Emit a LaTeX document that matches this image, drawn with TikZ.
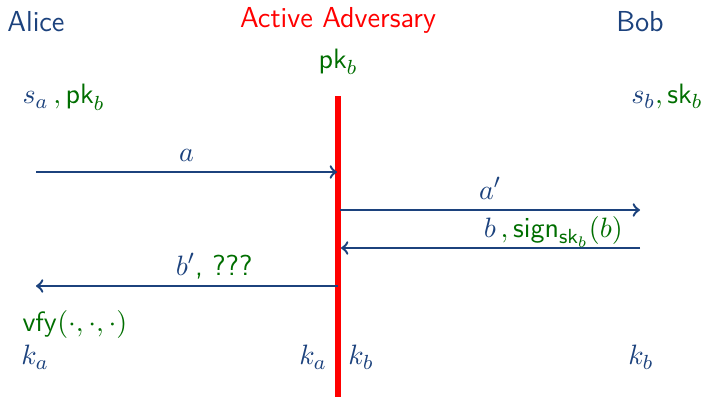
\documentclass[tikz,border=0pt]{standalone}
\definecolor{partyblue}{RGB}{28,66,125}
\definecolor{keygreen}{RGB}{0,110,0}
\definecolor{advred}{RGB}{255,0,0}

\begin{document}
\begin{tikzpicture}[x=0.01375cm, y=-0.01375cm,
  font=\fontsize{11.3}{13.6}\selectfont\sffamily,
  every node/.style={text=partyblue},
  txt/.style={inner sep=0pt, anchor=base},
  msg/.style={draw=partyblue, line width=0.95pt, ->},
  lbl/.style={inner sep=0pt, anchor=base, yshift=4.3pt}]

\useasboundingbox (0,0) rectangle (705,397);

% parties
\node[txt] (alice) at (36,31) {Alice};
\node[txt, text=advred] (adv) at (338,27) {Active Adversary};
\node[txt] (bob) at (640,31) {Bob};

% keys
\node[txt, text=keygreen] (advpk) at (338,68) {$\mathsf{pk}_b$};
\node[txt, anchor=base west] (alicekeys) at (22,104) {$s_a$\,\color{keygreen}$,\mathsf{pk}_b$};
\node[txt, anchor=base east] (bobkeys) at (703,104) {$s_b$\color{keygreen}$,\mathsf{sk}_b$};

% adversary line
\coordinate (advtop) at (338,96);
\coordinate (advbot) at (338,397);
\draw[advred, line width=2pt] (advtop) -- (advbot);

% messages
\coordinate (am1) at (36,172);  \coordinate (am2) at (337,172);
\coordinate (ap1) at (340,210); \coordinate (ap2) at (640,210);
\coordinate (bm1) at (640,248); \coordinate (bm2) at (341,248);
\coordinate (bp1) at (338,286); \coordinate (bp2) at (36,286);

\draw[msg] (am1) -- (am2) node[lbl, midway] (la) {$a$};
\draw[msg] (ap1) -- (ap2) node[lbl, midway] (lap) {$a'$};
\draw[msg] (bm1) -- (bm2) node[lbl, pos=0.29] (lb) {$b$\,\color{keygreen}$,\mathsf{sign}_{\mathsf{sk}_b}(b)$};
\draw[msg] (bp1) -- (bp2) node[lbl, pos=0.41] (lbp) {$b'$\color{keygreen}, ???};

% verification and session keys
\node[txt, anchor=base west, text=keygreen] (vfy) at (22,331) {$\mathsf{vfy}(\cdot,\cdot,\cdot)$};
\node[txt] (ka1) at (35,365) {$k_a$};
\node[txt] (ka2) at (313,365) {$k_a$};
\node[txt] (kb1) at (361,365) {$k_b$};
\node[txt] (kb2) at (641,365) {$k_b$};
\end{tikzpicture}
\end{document}
